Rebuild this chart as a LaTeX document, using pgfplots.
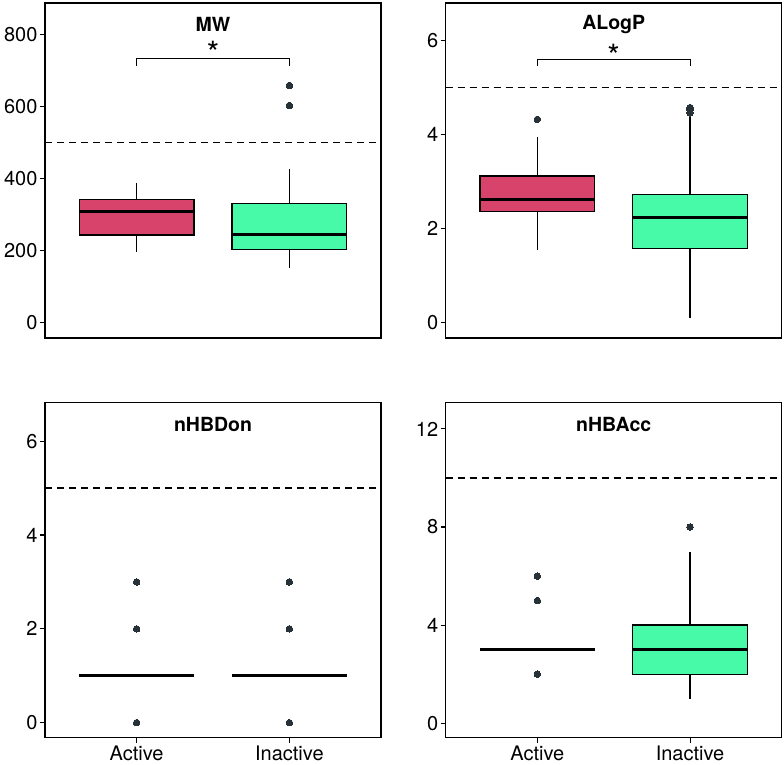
\documentclass[border=0pt]{standalone}
\usepackage{fontspec}
\setmainfont{TeX Gyre Heros}
\usepackage{pgfplots}
\pgfplotsset{compat=1.18}
\definecolor{actc}{HTML}{D8436C}
\definecolor{inac}{HTML}{47FAA8}
\definecolor{outc}{HTML}{263238}
\tikzset{ttl/.style={font=\bfseries\fontsize{19.5}{21}\selectfont},
  star/.style={anchor=base, font=\fontsize{32}{32}\selectfont}}
\pgfplotsset{
  panel/.style={
    scale only axis, width=336pt, height=335pt,
    xmin=0.4, xmax=2.6,
    axis line style={line width=1.4pt},
    tick style={line width=1.1pt, black},
    major tick length=5pt,
    tick align=outside,
    ytick pos=left, xtick pos=bottom,
    /pgf/number format/assume math mode=true,
    ticklabel style={font=\fontsize{20}{22}\selectfont},
    yticklabel style={xshift=1pt},
    clip=false,
  },
  toprow/.style={xtick=\empty},
  botrow/.style={xtick={1,2}, xticklabels={Active,Inactive}},
  wsk/.style={black, line width=1.35pt, no marks},
  bxa/.style={fill=actc, draw=black, line width=1.35pt, no marks},
  bxi/.style={fill=inac, draw=black, line width=1.35pt, no marks},
  med/.style={black, line width=3pt, no marks},
  outl/.style={only marks, mark=*, mark size=3.3pt, mark options={fill=outc, draw=outc, line width=0pt}},
  thr/.style={black, line width=1.2pt, dash pattern=on 7pt off 5pt, no marks},
}
\begin{document}
\begin{tikzpicture}
\useasboundingbox (0,0) rectangle (784pt,765pt);
% MW
\begin{axis}[panel, toprow, at={(45pt,427pt)}, anchor=south west,
  ymin=-42.5, ymax=888, ytick={0,200,400,600,800}]
\addplot[thr] coordinates {(0.4,500) (2.6,500)};
% Active
\addplot[wsk] coordinates {(1,196) (1,244)};
\addplot[wsk] coordinates {(1,343) (1,387)};
\addplot[bxa] coordinates {(0.625,244) (1.375,244) (1.375,343) (0.625,343)} -- cycle;
\addplot[med] coordinates {(0.625,309) (1.375,309)};
% Inactive
\addplot[wsk] coordinates {(2,153) (2,204)};
\addplot[wsk] coordinates {(2,331) (2,426)};
\addplot[bxi] coordinates {(1.625,204) (2.375,204) (2.375,331) (1.625,331)} -- cycle;
\addplot[med] coordinates {(1.625,246) (2.375,246)};
\addplot[outl] coordinates {(2,659) (2,603)};
% bracket
\addplot[black, line width=1.1pt, no marks] coordinates {(1,714) (1,734) (2,734) (2,714)};
\node[star] at (axis cs:1.5,717) {*};
\node[ttl] at (rel axis cs:0.5,0.937) {MW};
\end{axis}
% ALogP
\begin{axis}[panel, toprow, at={(445.7pt,427pt)}, anchor=south west,
  ymin=-0.32, ymax=6.79, ytick={0,2,4,6}]
\addplot[thr] coordinates {(0.4,5) (2.6,5)};
\addplot[wsk] coordinates {(1,1.54) (1,2.365)};
\addplot[wsk] coordinates {(1,3.115) (1,3.94)};
\addplot[bxa] coordinates {(0.625,2.365) (1.375,2.365) (1.375,3.115) (0.625,3.115)} -- cycle;
\addplot[med] coordinates {(0.625,2.61) (1.375,2.61)};
\addplot[outl] coordinates {(1,4.32)};
\addplot[wsk] coordinates {(2,0.11) (2,1.585)};
\addplot[wsk] coordinates {(2,2.725) (2,4.40)};
\addplot[bxi] coordinates {(1.625,1.585) (2.375,1.585) (2.375,2.725) (1.625,2.725)} -- cycle;
\addplot[med] coordinates {(1.625,2.245) (2.375,2.245)};
\addplot[outl] coordinates {(2,4.46) (2,4.52) (2,4.57)};
\addplot[black, line width=1.1pt, no marks] coordinates {(1,5.45) (1,5.59) (2,5.59) (2,5.45)};
\node[star] at (axis cs:1.5,5.42) {*};
\node[ttl] at (rel axis cs:0.5,0.937) {ALogP};
\end{axis}
% nHBDon
\begin{axis}[panel, botrow, at={(45pt,27.3pt)}, anchor=south west,
  ymin=-0.32, ymax=6.82, ytick={0,2,4,6}]
\addplot[thr] coordinates {(0.4,5) (2.6,5)};
\addplot[med] coordinates {(0.625,1) (1.375,1)};
\addplot[outl] coordinates {(1,0) (1,2) (1,3)};
\addplot[med] coordinates {(1.625,1) (2.375,1)};
\addplot[outl] coordinates {(2,0) (2,2) (2,3)};
\node[ttl] at (rel axis cs:0.5,0.936) {nHBDon};
\end{axis}
% nHBAcc
\begin{axis}[panel, botrow, at={(445.7pt,27.3pt)}, anchor=south west,
  ymin=-0.59, ymax=13.07, ytick={0,4,8,12}]
\addplot[thr] coordinates {(0.4,10) (2.6,10)};
\addplot[med] coordinates {(0.625,3) (1.375,3)};
\addplot[outl] coordinates {(1,2) (1,5) (1,6)};
\addplot[wsk] coordinates {(2,1) (2,2)};
\addplot[wsk] coordinates {(2,4) (2,7)};
\addplot[bxi] coordinates {(1.625,2) (2.375,2) (2.375,4) (1.625,4)} -- cycle;
\addplot[med] coordinates {(1.625,3) (2.375,3)};
\addplot[outl] coordinates {(2,8)};
\node[ttl] at (rel axis cs:0.5,0.936) {nHBAcc};
\end{axis}
\end{tikzpicture}
\end{document}
